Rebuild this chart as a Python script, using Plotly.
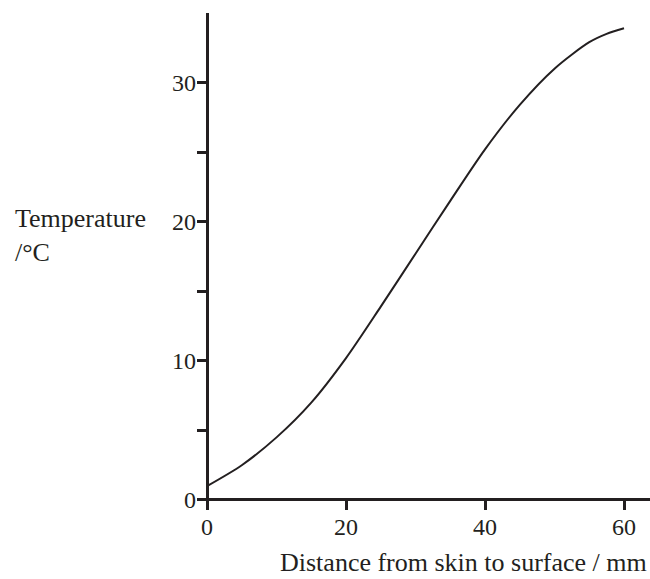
import plotly.graph_objects as go

# Data
distance_mm = [0, 5, 10, 15, 20, 25, 30, 35, 40, 45, 50, 55, 57.5, 60]
temperature_c = [1.0, 2.5, 4.5, 7.0, 10.2, 13.9, 17.7, 21.5, 25.2, 28.4, 31.0, 32.9, 33.5, 33.9]

y_tickvals = [0, 5, 10, 15, 20, 25, 30, 35]
y_ticktext = ["0", "", "10", "", "20", "", "30", ""]
x_tickvals = [0, 20, 40, 60]
x_ticktext = ["0", "20", "40", "60"]

ink = "#231f20"
font_family = "Liberation Serif"

fig = go.Figure()
fig.add_trace(go.Scatter(
    x=distance_mm, y=temperature_c, mode="lines",
    line=dict(color=ink, width=2, shape="spline", smoothing=0.8),
    hoverinfo="skip", showlegend=False,
))

fig.update_layout(
    width=650, height=579,
    margin=dict(l=197, r=0, t=13, b=69, autoexpand=False),
    paper_bgcolor="white", plot_bgcolor="white",
    font=dict(family=font_family, size=24, color=ink),
    xaxis=dict(
        range=[-1.44, 63.74], showgrid=False, showline=False, automargin=False,
        zeroline=True, zerolinecolor=ink, zerolinewidth=3,
        tickvals=x_tickvals, ticktext=x_ticktext,
        ticks="inside", ticklen=10, tickwidth=2.5, tickcolor=ink,
        tickfont=dict(family=font_family, size=24, color=ink),
        fixedrange=True,
    ),
    yaxis=dict(
        range=[-0.72, 35], showgrid=False, showline=False, automargin=False,
        zeroline=True, zerolinecolor=ink, zerolinewidth=3,
        tickvals=y_tickvals, ticktext=y_ticktext,
        ticks="inside", ticklen=10, tickwidth=2.5, tickcolor=ink,
        tickfont=dict(family=font_family, size=24, color=ink),
        fixedrange=True,
    ),
    annotations=[
        dict(text="Distance from skin to surface / mm", xref="paper", yref="paper",
             x=0.996, y=-0.105, xanchor="right", yanchor="middle", showarrow=False,
             borderpad=0,
             font=dict(family=font_family, size=26, color=ink)),
        dict(text="Temperature<br>/°C", xref="paper", yref="paper",
             x=-0.406, y=0.553, xanchor="left", yanchor="middle", align="left",
             showarrow=False, font=dict(family=font_family, size=26, color=ink)),
    ],
)

fig.write_html("out.html", config={"displayModeBar": False},
               post_script="document.body.style.margin='0';")
